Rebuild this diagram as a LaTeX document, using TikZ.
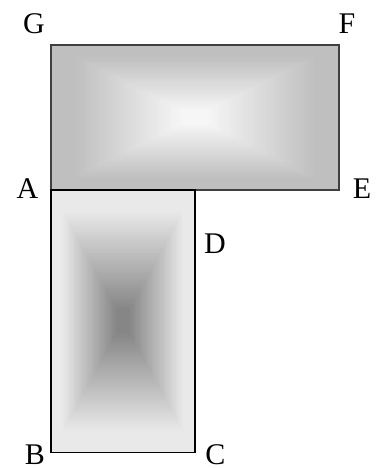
\documentclass[tikz,border=0pt]{standalone}
\usepackage{fontspec}
\setmainfont{Liberation Serif}
\definecolor{topout}{HTML}{BFBFBF}
\definecolor{topin}{HTML}{F6F6F6}
\definecolor{botout}{HTML}{E9E9E9}
\definecolor{botin}{HTML}{868686}
\definecolor{topedge}{HTML}{404040}
\tikzset{
  lbl/.style={anchor=base, inner sep=0pt, font=\fontsize{22.5}{27}\selectfont},
  topframe/.style={draw=topedge, line width=1.1pt},
  botframe/.style={draw=black, line width=1.1pt}
}
\begin{document}
\begin{tikzpicture}[x=0.75pt,y=-0.75pt]
\useasboundingbox (0,0) rectangle (380,468);
% corners
\coordinate (A) at (51,190);
\coordinate (E) at (339,190);
\coordinate (F) at (339,45);
\coordinate (G) at (51,45);
\coordinate (D) at (195,190);
\coordinate (C) at (195,452.5);
\coordinate (B) at (51,452.5);
% top shading (rectangular)
\foreach \i in {0,...,59}{
  \pgfmathsetmacro\f{1-\i/60}
  \pgfmathtruncatemacro\p{max(0,min(100,((1-\f)-0.15)/0.75*100))}
  \fill[topin!\p!topout] (195-144*\f,117.5-72.5*\f) rectangle (195+144*\f,117.5+72.5*\f);
}
% bottom shading (rectangular)
\foreach \i in {0,...,59}{
  \pgfmathsetmacro\f{1-\i/60}
  \pgfmathtruncatemacro\p{max(0,min(100,((1-\f)-0.15)/0.75*100))}
  \fill[botin!\p!botout] (123-72*\f,321.25-131.25*\f) rectangle (123+72*\f,321.25+131.25*\f);
}
\draw[topframe] (G) rectangle (E);
\draw[botframe] (A) rectangle (C);
% labels
\node[lbl] (lG) at (34,33) {G};
\node[lbl] (lF) at (347,33) {F};
\node[lbl] (lA) at (27.5,198) {A};
\node[lbl] (lE) at (362,198) {E};
\node[lbl] (lD) at (215,253) {D};
\node[lbl] (lB) at (35,464.5) {B};
\node[lbl] (lC) at (215.5,464) {C};
\end{tikzpicture}
\end{document}
